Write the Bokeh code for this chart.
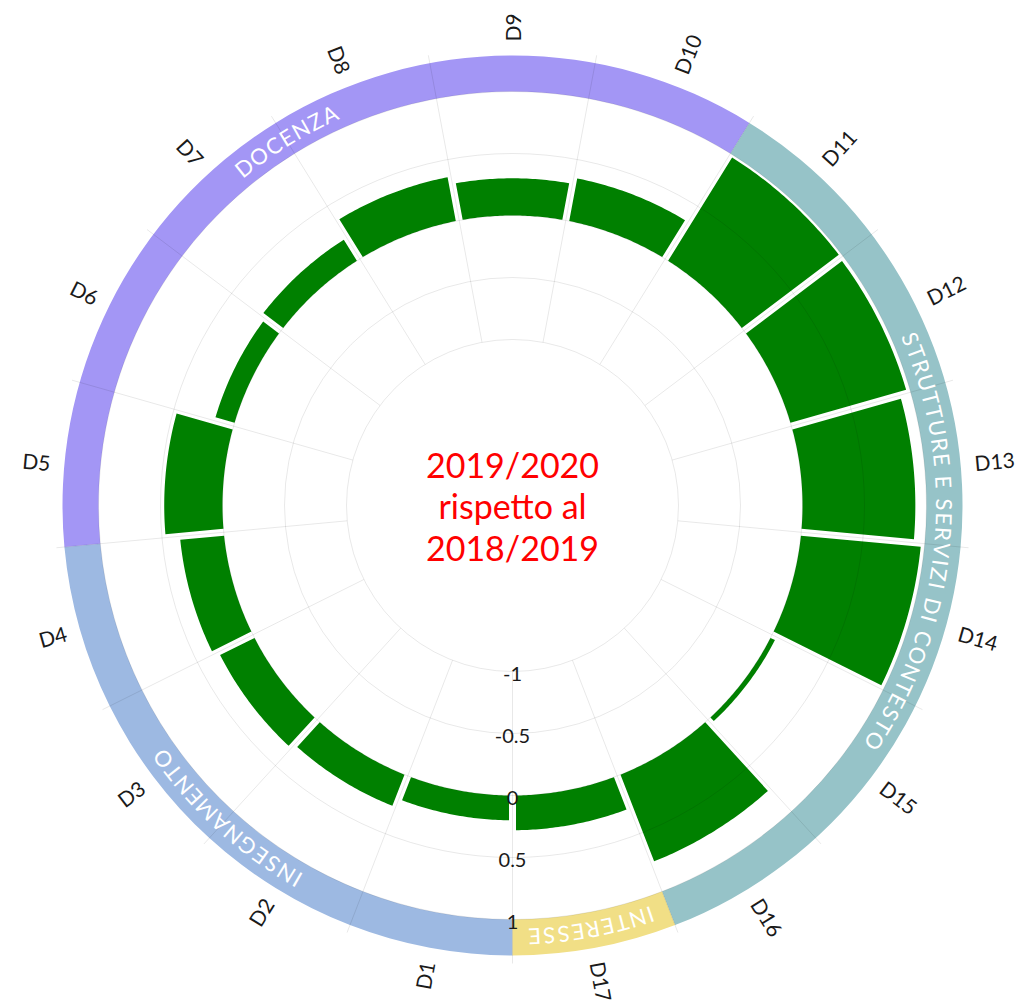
import math
from bokeh.plotting import figure
from bokeh.models import ColumnDataSource, Range1d
from bokeh.embed import file_html
from bokeh.resources import INLINE
from bokeh.core.properties import value

# ---------------- data ----------------
categories = ["D1", "D2", "D3", "D4", "D5", "D6", "D7", "D8", "D9",
              "D10", "D11", "D12", "D13", "D14", "D15", "D16", "D17"]
values = [0.20, 0.27, 0.31, 0.355, 0.47, 0.16, 0.20, 0.36, 0.30,
          0.35, 0.98, 0.97, 0.91, 0.97, 0.04, 0.75, 0.28]
category_group = ["INSEGNAMENTO"] * 4 + ["DOCENZA"] * 6 + \
                 ["STRUTTURE E SERVIZI DI CONTESTO"] * 6 + ["INTERESSE"]
group_names = ["INSEGNAMENTO", "DOCENZA", "STRUTTURE E SERVIZI DI CONTESTO", "INTERESSE"]
group_colors = ["#9db9e2", "#a396f5", "#96c3c8", "#f1df86"]
radial_ticks = [-1, -0.5, 0, 0.5, 1]
radial_tick_labels = ["-1", "-0.5", "0", "0.5", "1"]
center_title = ["2019/2020", "rispetto al", "2018/2019"]

# ---------------- layout ----------------
W, H = 1023, 1004
ORIGIN = 0                   # picture position of the figure's top-left corner
CX, CY = 512, 505            # centre of the chart in the picture
R_MIN, R_MAX = 166, 414      # radius of value -1 and value 1
RING_IN, RING_OUT = 414, 450
LABEL_R = 464
LABEL_FS = 21
GRID_OUT = 458
GAP = 7.0
FONT = "Lato"

N = len(categories)
STEP = 360.0 / N


def rscale(v):
    return R_MIN + (v - radial_ticks[0]) / (radial_ticks[-1] - radial_ticks[0]) * (R_MAX - R_MIN)


def compass(i):
    return (i - (N - 1) / 2.0) * STEP


def pt(r, c):
    a = math.radians(c)
    return r * math.sin(a), r * math.cos(a)


p = figure(width=W, height=H,
           x_range=Range1d(ORIGIN - CX, ORIGIN + W - CX),
           y_range=Range1d(CY - (ORIGIN + H), CY - ORIGIN),
           output_backend="svg", toolbar_location=None,
           x_axis_location=None, y_axis_location=None,
           min_border=0, outline_line_color=None)
p.grid.visible = False
p.background_fill_color = "white"
p.border_fill_color = "white"

# ---------------- bars ----------------
bxs, bys = [], []
h = GAP / 2.0
for i, v in enumerate(values):
    c0 = compass(i) - STEP / 2
    c1 = compass(i) + STEP / 2
    r0 = rscale(0)
    r1 = rscale(v)
    d_out = math.degrees(math.asin(min(1, h / r1)))
    d_in = math.degrees(math.asin(min(1, h / r0)))
    n = 40
    xs, ys = [], []
    for k in range(n + 1):
        c = (c0 + d_out) + (c1 - c0 - 2 * d_out) * k / n
        x, y = pt(r1, c)
        xs.append(x); ys.append(y)
    for k in range(n + 1):
        c = (c1 - d_in) - (c1 - c0 - 2 * d_in) * k / n
        x, y = pt(r0, c)
        xs.append(x); ys.append(y)
    bxs.append(xs); bys.append(ys)
p.patches(xs="xs", ys="ys", source=ColumnDataSource(dict(xs=bxs, ys=bys, cat=categories, val=values)),
          fill_color="#008000", line_color=None)

# ---------------- group ring ----------------
ring = dict(start=[], end=[], color=[])
seg_mid = {}
for g, col in zip(group_names, group_colors):
    idx = [i for i, cg in enumerate(category_group) if cg == g]
    c_start = compass(min(idx)) - STEP / 2
    c_end = compass(max(idx)) + STEP / 2
    ring["start"].append(math.radians(90 - c_end))
    ring["end"].append(math.radians(90 - c_start))
    ring["color"].append(col)
    seg_mid[g] = (c_start + c_end) / 2
p.annular_wedge(x=0, y=0, inner_radius=RING_IN, outer_radius=RING_OUT,
                start_angle="start", end_angle="end", fill_color="color",
                line_color=None, source=ColumnDataSource(ring))

# ---------------- grid ----------------
for t in radial_ticks:
    p.arc(x=0, y=0, radius=rscale(t), start_angle=0, end_angle=2 * math.pi,
          line_color="black", line_alpha=0.09, line_width=1)
sx0, sy0, sx1, sy1 = [], [], [], []
for i in range(N):
    c = compass(i) - STEP / 2
    a = pt(R_MIN, c)
    b = pt(GRID_OUT, c)
    sx0.append(a[0]); sy0.append(a[1]); sx1.append(b[0]); sy1.append(b[1])
p.segment(x0=sx0, y0=sy0, x1=sx1, y1=sy1, line_color="black", line_alpha=0.09, line_width=1)

# ---------------- ring captions (letters along arc) ----------------
CW = {"I": 0.30, "S": 0.60, "T": 0.60, "R": 0.66, "U": 0.72, "E": 0.58, "V": 0.70,
      "Z": 0.62, "D": 0.74, "C": 0.70, "O": 0.80, "N": 0.76, "A": 0.70, "G": 0.76,
      "M": 0.88, " ": 0.30}
RFS = 22
LS = 1.5
R_TEXT = 432
lt = dict(x=[], y=[], t=[], a=[])
for g in group_names:
    widths = [CW.get(ch, 0.65) * RFS for ch in g]
    total = sum(widths) + LS * (len(g) - 1)
    start = seg_mid[g] - math.degrees(total / R_TEXT) / 2
    pos = 0.0
    for ch, w in zip(g, widths):
        c = start + math.degrees((pos + w / 2) / R_TEXT)
        x, y = pt(R_TEXT, c)
        lt["x"].append(x); lt["y"].append(y); lt["t"].append(ch)
        lt["a"].append(math.radians(-c))
        pos += w + LS
p.text(x="x", y="y", text="t", angle="a", source=ColumnDataSource(lt),
       text_font=value(FONT), text_font_size="%dpx" % RFS, text_color="white",
       text_align="center", text_baseline="middle")

# ---------------- category labels ----------------
right = dict(x=[], y=[], t=[], a=[])
left = dict(x=[], y=[], t=[], a=[])
for i, cat in enumerate(categories):
    c = compass(i)
    x, y = pt(LABEL_R, c)
    if c >= 0:
        d = right
        ang = 90 - c
    else:
        d = left
        ang = -90 - c
    d["x"].append(x); d["y"].append(y); d["t"].append(cat); d["a"].append(math.radians(ang))
p.text(x="x", y="y", text="t", angle="a", source=ColumnDataSource(right),
       text_font=value(FONT), text_font_size="%dpx" % LABEL_FS, text_color="#1a1a1a",
       text_align="left", text_baseline="middle")
p.text(x="x", y="y", text="t", angle="a", source=ColumnDataSource(left),
       text_font=value(FONT), text_font_size="%dpx" % LABEL_FS, text_color="#1a1a1a",
       text_align="right", text_baseline="middle")

# ---------------- radial tick labels ----------------
p.text(x=[0] * len(radial_ticks), y=[-(rscale(t) + 2) for t in radial_ticks],
       text=radial_tick_labels, text_font=value(FONT), text_font_size="20px",
       text_color="#1a1a1a", text_align="center", text_baseline="middle")

# ---------------- centre title ----------------
p.text(x=[0, 0, 0], y=[41, 0, -42], text=center_title,
       text_font=value(FONT), text_font_size="34px", text_color="red",
       text_align="center", text_baseline="middle")

open("out.html", "w").write(file_html(p, INLINE))
